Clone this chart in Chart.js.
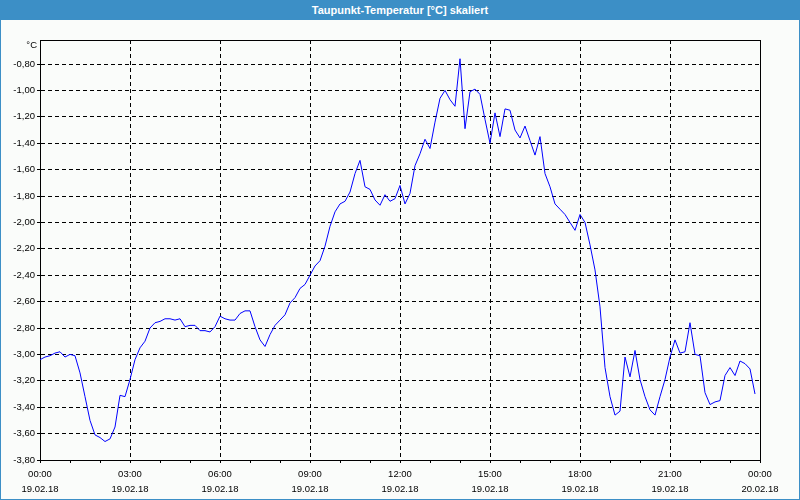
<!DOCTYPE html>
<html>
<head>
<meta charset="utf-8">
<script src="https://cdn.jsdelivr.net/npm/chart.js@4.4.1/dist/chart.umd.min.js"></script>
<style>
  html, body { margin: 0; padding: 0; background: #fafcfa; }
  #wrap { position: relative; width: 800px; height: 500px; overflow: hidden; background: #fafcfa; }
  #title { position: absolute; left: 0; top: 0; width: 800px; height: 20px; background: #3c8fc6;
           color: #ffffff; font: bold 11px "Liberation Sans", Arial, sans-serif; text-align: center;
           line-height: 20px; z-index: 2; }
  #frame { position: absolute; left: 0; top: 0; width: 800px; height: 500px; box-sizing: border-box;
           border: 1px solid #3c8fc6; z-index: 3; pointer-events: none; }
  #c { position: absolute; left: 0; top: 0; }
</style>
</head>
<body>
<div id="wrap">
  <div id="title">Taupunkt-Temperatur [°C] skaliert</div>
  <div id="frame"></div>
  <canvas id="c" width="800" height="500"></canvas>
</div>
<script>
// ---- data ----
const chartTitle = 'Taupunkt-Temperatur [°C] skaliert';
const unitLabel = '°C';
const sampleIntervalMinutes = 10;   // one reading every 10 minutes, starting 19.02.18 00:00
const dewPoint = [
  -3.04, -3.02, -3.01, -2.99, -2.98, -3.02, -3.00, -3.01, -3.14, -3.32,
  -3.50, -3.61, -3.63, -3.66, -3.64, -3.55, -3.31, -3.32, -3.19, -3.04,
  -2.95, -2.90, -2.80, -2.76, -2.75, -2.73, -2.73, -2.74, -2.73, -2.79,
  -2.78, -2.78, -2.82, -2.82, -2.83, -2.79, -2.71, -2.73, -2.74, -2.74,
  -2.69, -2.67, -2.67, -2.79, -2.89, -2.94, -2.85, -2.78, -2.74, -2.70,
  -2.61, -2.57, -2.50, -2.47, -2.40, -2.33, -2.29, -2.18, -2.03, -1.92,
  -1.86, -1.84, -1.77, -1.63, -1.53, -1.73, -1.75, -1.83, -1.87, -1.79,
  -1.84, -1.82, -1.72, -1.86, -1.78, -1.57, -1.48, -1.37, -1.44, -1.24,
  -1.06, -1.00, -1.07, -1.12, -0.76, -1.29, -1.01, -0.99, -1.03, -1.22,
  -1.40, -1.17, -1.35, -1.14, -1.15, -1.30, -1.36, -1.27, -1.38, -1.49,
  -1.35, -1.63, -1.73, -1.86, -1.90, -1.94, -2.00, -2.06, -1.94, -2.00,
  -2.17, -2.36, -2.64, -3.10, -3.32, -3.46, -3.43, -3.02, -3.17, -2.97,
  -3.19, -3.32, -3.42, -3.46, -3.32, -3.19, -3.02, -2.89, -2.99, -2.98,
  -2.76, -3.00, -3.01, -3.29, -3.38, -3.36, -3.35, -3.16, -3.10, -3.16,
  -3.05, -3.07, -3.11, -3.30
];
const xTickTimes = ['00:00', '03:00', '06:00', '09:00', '12:00', '15:00', '18:00', '21:00', '00:00'];
const xTickDates = ['19.02.18', '19.02.18', '19.02.18', '19.02.18', '19.02.18', '19.02.18', '19.02.18', '19.02.18', '20.02.18'];
const yTicks = [-3.8, -3.6, -3.4, -3.2, -3.0, -2.8, -2.6, -2.4, -2.2, -2.0, -1.8, -1.6, -1.4, -1.2, -1.0, -0.8];
const yMin = -3.8;
const yMax = -0.618;

// ---- build ----
const points = dewPoint.map((v, i) => ({ x: i * sampleIntervalMinutes / 60, y: v }));
const FONT = '"Liberation Sans", Arial, sans-serif';

const framePlugin = {
  id: 'frame',
  afterDraw(chart) {
    const a = chart.chartArea, ctx = chart.ctx;
    ctx.save();
    ctx.strokeStyle = '#000';
    ctx.lineWidth = 1;
    ctx.setLineDash([]);
    ctx.beginPath();
    ctx.moveTo(Math.round(a.left) + 0.5, Math.round(a.top) + 0.5);
    ctx.lineTo(Math.round(a.right) + 0.5, Math.round(a.top) + 0.5);
    ctx.lineTo(Math.round(a.right) + 0.5, Math.round(a.bottom) + 0.5);
    ctx.stroke();
    ctx.fillStyle = '#000';
    ctx.font = '9.5px ' + FONT;
    ctx.textAlign = 'right';
    ctx.textBaseline = 'middle';
    ctx.fillText(unitLabel, a.left - 3, a.top + 5);
    ctx.restore();
  }
};

new Chart(document.getElementById('c'), {
  type: 'line',
  data: {
    datasets: [{
      label: chartTitle,
      data: points,
      borderColor: '#0000ff',
      borderWidth: 1,
      pointRadius: 0,
      tension: 0,
      fill: false
    }]
  },
  options: {
    responsive: false,
    animation: false,
    layout: { padding: { top: 40, right: 40, left: 0, bottom: 0 } },
    plugins: { legend: { display: false }, title: { display: false }, tooltip: { enabled: false } },
    scales: {
      x: {
        type: 'linear',
        min: 0,
        max: 24,
        afterFit(s) { s.height = 40; },
        ticks: {
          stepSize: 1,
          autoSkip: false,
          maxRotation: 0,
          padding: 4,
          color: '#000',
          font: { family: FONT, size: 9.5, lineHeight: '15px' },
          callback(v) {
            if (v % 3 === 0) { const k = v / 3; return [xTickTimes[k], xTickDates[k]]; }
            return '';
          }
        },
        grid: {
          color: (c) => (c.tick && c.tick.value % 3 === 0) ? '#000' : 'rgba(0,0,0,0)',
          tickColor: '#000',
          tickLength: 3,
          lineWidth: 1,
          drawTicks: true
        },
        border: { display: true, color: '#000', width: 1, dash: [4, 3] }
      },
      y: {
        min: yMin,
        max: yMax,
        afterFit(s) { s.width = 40; },
        afterBuildTicks(s) { s.ticks = yTicks.map(v => ({ value: v })); },
        ticks: {
          padding: 2,
          color: '#000',
          font: { family: FONT, size: 9.5 },
          callback(v) { return Number(v).toFixed(2).replace('.', ','); }
        },
        grid: {
          color: '#000',
          tickColor: '#000',
          tickLength: 3,
          lineWidth: 1,
          drawTicks: true
        },
        border: { display: true, color: '#000', width: 1, dash: [4, 3] }
      }
    }
  },
  plugins: [framePlugin]
});
</script>
</body>
</html>
